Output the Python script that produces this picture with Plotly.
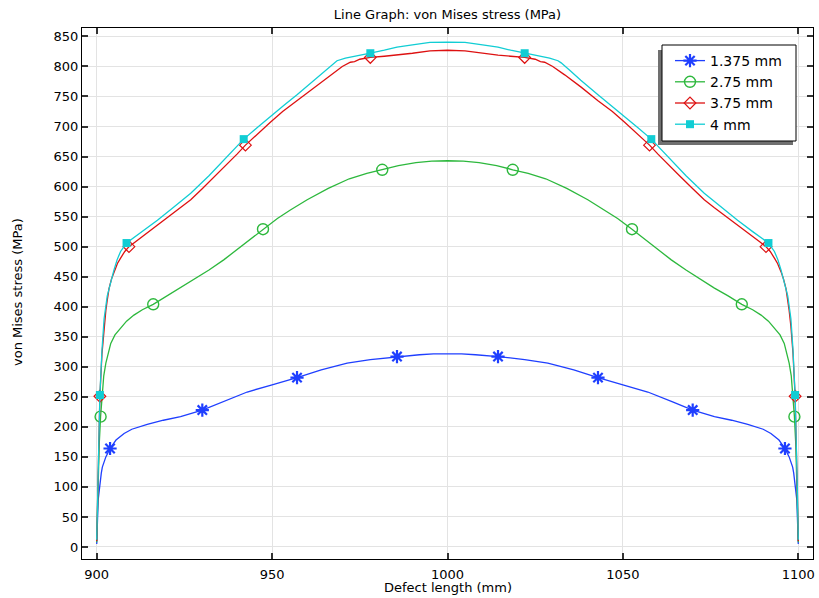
import plotly.graph_objects as go

# ---------------- data ----------------
blue_x = [900.0, 900.4, 901.3, 901.6, 902.6, 903.8, 905.5, 907.8, 910.0, 914.4, 919.0, 923.9,
          930.1, 936.0, 942.9, 950.0, 957.1, 964.0, 971.4, 978.0, 985.6, 992.0, 996.0, 1000.0,
          1004.0, 1008.0, 1014.4, 1022.0, 1028.6, 1036.0, 1042.9, 1050.0, 1057.1, 1064.0, 1069.9,
          1076.1, 1081.0, 1085.6, 1090.0, 1092.2, 1094.5, 1096.2, 1097.4, 1098.4, 1098.7, 1099.6, 1100.0]
blue_y = [5, 78, 123, 133, 150, 164, 178, 189, 196, 204, 211, 217,
          228, 242, 258, 270, 282, 295, 306, 312, 317, 320, 321.5, 322,
          321.5, 320, 317, 312, 306, 295, 282, 270, 258, 242, 228,
          217, 211, 204, 196, 189, 178, 164, 150, 133, 123, 78, 5]

green_x = [900.0, 900.3, 900.7, 901.1, 901.6, 902.0, 902.6, 903.3, 904.0, 905.2, 906.8, 908.5,
           910.6, 913.0, 916.1, 920.0, 923.9, 928.0, 932.0, 936.2, 941.5, 947.4, 951.5, 955.2,
           960.0, 966.0, 972.0, 977.0, 981.4, 986.0, 991.0, 995.5, 1000.0,
           1004.5, 1009.0, 1014.0, 1018.6, 1023.0, 1028.0, 1034.0, 1040.0, 1044.8, 1048.5, 1052.6,
           1058.5, 1063.8, 1068.0, 1072.0, 1076.1, 1080.0, 1083.9, 1087.0, 1089.4, 1091.5, 1093.2,
           1094.8, 1096.0, 1096.7, 1097.4, 1098.0, 1098.4, 1098.9, 1099.3, 1099.7, 1100.0]
green_y = [8, 90, 170, 217, 258, 285, 306, 324, 339, 353, 364, 376,
           386, 395, 404, 418, 431, 446, 461, 478, 502, 529, 547, 561,
           578, 597, 613, 622, 628, 635, 640, 642.5, 643,
           642.5, 640, 635, 628, 622, 613, 597, 578, 561, 547, 529,
           502, 478, 461, 446, 431, 418, 404, 395, 386, 376, 364,
           353, 339, 324, 306, 285, 258, 217, 170, 90, 8]

red_x = [900.0, 900.3, 900.6, 900.9, 901.5, 902.1, 902.6, 903.0, 903.5, 904.2, 904.9, 905.9,
         906.8, 908.0, 909.2, 911.0, 913.5, 917.3, 920.0, 924.0, 926.8, 930.0, 934.0, 936.2,
         940.0, 942.4, 946.0, 949.5, 953.0, 957.1, 962.0, 966.6, 970.0, 972.3, 973.5, 975.0,
         978.0, 982.0, 985.6, 990.0, 995.0, 1000.0,
         1005.0, 1010.0, 1014.4, 1018.0, 1022.0, 1025.0, 1026.5, 1027.7, 1030.0, 1033.4, 1038.0,
         1042.9, 1047.0, 1050.5, 1054.0, 1057.6, 1060.0, 1063.8, 1066.0, 1070.0, 1073.2, 1076.0,
         1080.0, 1082.7, 1086.5, 1089.0, 1090.8, 1092.0, 1093.2, 1094.1, 1095.1, 1095.8, 1096.5,
         1097.0, 1097.4, 1097.9, 1098.5, 1099.1, 1099.4, 1099.7, 1100.0]
red_y = [10, 100, 190, 251, 322, 367, 394, 411, 430, 446, 458, 472,
         481, 492, 500, 508, 519, 535, 547, 565, 578, 596, 619, 631,
         654, 669, 689, 707, 725, 743, 766, 786, 800, 807, 808, 812,
         815, 817, 819, 822, 826, 827,
         826, 822, 819, 817, 815, 812, 808, 807, 800, 786, 766,
         743, 725, 707, 689, 669, 654, 631, 619, 596, 578, 565,
         547, 535, 519, 508, 500, 492, 481, 472, 458, 446, 430,
         411, 394, 367, 322, 251, 190, 100, 10]

cyan_x = [900.0, 900.3, 900.6, 900.9, 901.5, 902.1, 903.0, 904.0, 904.9, 905.8, 906.8, 908.5,
          913.0, 917.3, 922.0, 926.8, 932.0, 936.2, 941.9, 945.7, 949.5, 953.3, 957.1, 962.0,
          965.0, 967.6, 968.5, 970.9, 974.0, 978.0, 982.0, 985.6, 990.0, 995.0, 1000.0,
          1005.0, 1010.0, 1014.4, 1018.0, 1022.0, 1026.0, 1029.1, 1031.5, 1032.4, 1035.0, 1038.0,
          1042.9, 1046.7, 1050.5, 1054.3, 1058.1, 1063.8, 1068.0, 1073.2, 1078.0, 1082.7, 1087.0,
          1091.5, 1093.2, 1094.2, 1095.1, 1096.0, 1097.0, 1097.9, 1098.5, 1099.1, 1099.4, 1099.7, 1100.0]
cyan_y = [12, 105, 195, 253, 328, 380, 418, 442, 461, 478, 492, 506,
          525, 544, 566, 589, 618, 644, 679, 698, 717, 735, 753, 777,
          793, 806, 809.5, 814, 818, 822, 827, 832, 836, 840, 840.5,
          840, 836, 832, 827, 822, 818, 814, 809.5, 806, 793, 777,
          753, 735, 717, 698, 679, 644, 618, 589, 566, 544, 525,
          506, 492, 478, 461, 442, 418, 380, 328, 253, 195, 105, 12]

blue_mx = [903.8, 930.1, 957.1, 985.6, 1014.4, 1042.9, 1069.9, 1096.2]
blue_my = [164, 228, 282, 317, 317, 282, 228, 164]
green_mx = [901.1, 916.1, 947.4, 981.4, 1018.6, 1052.6, 1083.9, 1098.9]
green_my = [217, 404, 529, 628, 628, 529, 404, 217]
red_mx = [900.9, 909.2, 942.4, 978.0, 1022.0, 1057.6, 1090.8, 1099.1]
red_my = [251, 500, 669, 815, 815, 669, 500, 251]
cyan_mx = [900.9, 908.5, 941.9, 978.0, 1022.0, 1058.1, 1091.5, 1099.1]
cyan_my = [253, 506, 679, 822, 822, 679, 506, 253]

names = ["1.375 mm", "2.75 mm", "3.75 mm", "4 mm"]
x_ticks = [900, 950, 1000, 1050, 1100]
y_ticks = list(range(0, 851, 50))

# ---------------- styling ----------------
FONT = "DejaVu Sans"
colors = ["#1f3fff", "#2db83d", "#dd1111", "#11cdd4"]
series = [
    (blue_x, blue_y, blue_mx, blue_my,
     dict(symbol="asterisk-open", size=11, color=colors[0], line=dict(width=2.2, color=colors[0]))),
    (green_x, green_y, green_mx, green_my,
     dict(symbol="circle-open", size=11, color=colors[1], line=dict(width=1.4, color=colors[1]))),
    (red_x, red_y, red_mx, red_my,
     dict(symbol="diamond-open", size=9, color=colors[2], line=dict(width=1.2, color=colors[2]))),
    (cyan_x, cyan_y, cyan_mx, cyan_my,
     dict(symbol="square", size=8, color=colors[3], line=dict(width=0))),
]

fig = go.Figure()
for (x, y, mx, my, mk), name, c in zip(series, names, colors):
    fig.add_trace(go.Scatter(x=x, y=y, mode="lines", line=dict(color=c, width=1.3),
                             showlegend=False, hoverinfo="skip"))
    fig.add_trace(go.Scatter(x=mx, y=my, mode="markers", marker=mk, showlegend=False))
    fig.add_trace(go.Scatter(x=[None], y=[None], mode="lines+markers", name=name,
                             line=dict(color=c, width=1.3), marker=mk))

# plot area in pixels: x 82..813, y 28..559
L, R, T, B = 82, 813, 28, 559
W, H = 819, 598
def px(xp):
    return (xp - L) / (R - L)
def py(yp):
    return 1 - (yp - T) / (B - T)

shapes = [
    dict(type="rect", xref="paper", yref="paper", x0=px(658), x1=px(793), y0=py(145), y1=py(50),
         fillcolor="#707070", line=dict(width=0), layer="above"),
    dict(type="rect", xref="paper", yref="paper", x0=px(662), x1=px(796), y0=py(141), y1=py(45),
         fillcolor="white", line=dict(color="black", width=1), layer="above"),
]

axis_common = dict(showline=True, linecolor="black", linewidth=1, mirror="ticks",
                   ticks="inside", ticklen=6, tickcolor="#333333", tickwidth=1.5,
                   showgrid=True, gridcolor="#e3e3e3", gridwidth=1, zeroline=False,
                   automargin=False,
                   tickfont=dict(family=FONT, size=13, color="black"))

annotations = [
    dict(text="Defect length (mm)", xref="paper", yref="paper", x=0.5, y=py(587),
         xanchor="center", yanchor="middle", showarrow=False,
         font=dict(family=FONT, size=13, color="black")),
    dict(text="von Mises stress (MPa)", xref="paper", yref="paper", x=px(17), y=py(292),
         xanchor="center", yanchor="middle", showarrow=False, textangle=-90,
         font=dict(family=FONT, size=13, color="black")),
]

fig.update_layout(
    width=W, height=H,
    margin=dict(l=L, r=W - R, t=T, b=H - B, autoexpand=False),
    paper_bgcolor="white", plot_bgcolor="white",
    font=dict(family=FONT, size=13, color="black"),
    title=dict(text="Line Graph: von Mises stress (MPa)", x=0.5, xref="paper",
               y=1 - 14 / H, yref="container", yanchor="middle",
               font=dict(family=FONT, size=13, color="black")),
    xaxis=dict(range=[895.8, 1104.2], tickvals=x_ticks, ticktext=[str(v) for v in x_ticks],
               ticklabelstandoff=3, **axis_common),
    yaxis=dict(range=[-20, 864], tickvals=y_ticks, ticktext=[str(v) for v in y_ticks],
               **axis_common),
    legend=dict(x=px(670), y=py(45), xanchor="left", yanchor="top",
                bgcolor="rgba(0,0,0,0)", borderwidth=0,
                font=dict(family=FONT, size=14, color="black"), tracegroupgap=0),
    shapes=shapes,
    annotations=annotations,
    showlegend=True,
)

fig.write_html("out.html", config={"displayModeBar": False},
               post_script="document.body.style.margin='0px';document.body.style.overflow='hidden';")
